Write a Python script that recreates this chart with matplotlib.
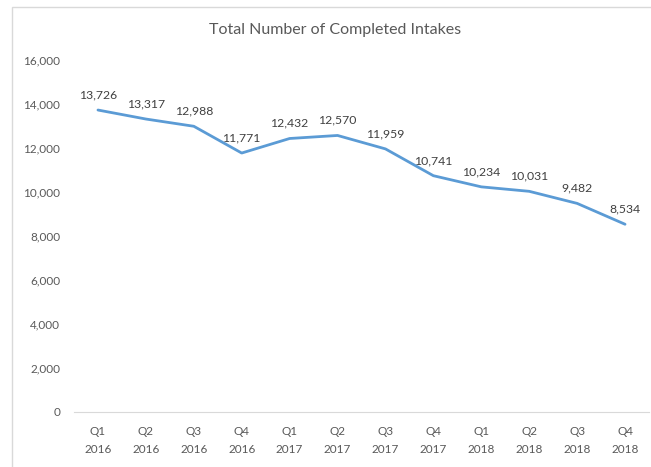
import matplotlib
matplotlib.use("Agg")
import matplotlib.pyplot as plt
from matplotlib.patches import Rectangle

quarters = ["Q1\n2016", "Q2\n2016", "Q3\n2016", "Q4\n2016",
            "Q1\n2017", "Q2\n2017", "Q3\n2017", "Q4\n2017",
            "Q1\n2018", "Q2\n2018", "Q3\n2018", "Q4\n2018"]
intakes = [13726, 13317, 12988, 11771, 12432, 12570,
           11959, 10741, 10234, 10031, 9482, 8534]
yticks = [0, 2000, 4000, 6000, 8000, 10000, 12000, 14000, 16000]

plt.rcParams['font.family'] = ['Lato', 'DejaVu Sans']

fig = plt.figure(figsize=(6.51, 4.67), dpi=100)
# light frame around the chart area
fig.patches.append(Rectangle((12/651, -0.1), 1.2, 1 - 7/467 + 0.1,
                             transform=fig.transFigure, fill=False,
                             edgecolor='#d9d9d9', linewidth=1.0))

ax = fig.add_axes([74/651, 1 - 412/467, (649 - 74)/651, (412 - 60)/467])
x = range(len(quarters))
ax.plot(x, intakes, color='#5B9BD5', linewidth=2.0, solid_capstyle='round')

for i, v in enumerate(intakes):
    ax.annotate(f"{v:,}", (i, v), xytext=(0, 7), textcoords='offset points',
                ha='center', va='bottom', fontsize=8.8, color='#404040')

ax.set_xlim(-0.5, len(quarters) - 0.5)
ax.set_ylim(0, 16000)
ax.set_yticks(yticks)
ax.set_yticklabels([f"{t:,}" for t in yticks])
ax.set_xticks(list(x))
ax.set_xticklabels(quarters, linespacing=1.75)
ax.tick_params(axis='both', length=0, labelsize=8.5, colors='#595959')
ax.tick_params(axis='y', pad=10)
ax.tick_params(axis='x', pad=10)

for s in ['top', 'right', 'left']:
    ax.spines[s].set_visible(False)
ax.spines['bottom'].set_color('#d9d9d9')

fig.text(335/651, 1 - 30/467, "Total Number of Completed Intakes",
         ha='center', va='center', fontsize=11.5, color='#595959')

fig.savefig("out.png", dpi=100)
